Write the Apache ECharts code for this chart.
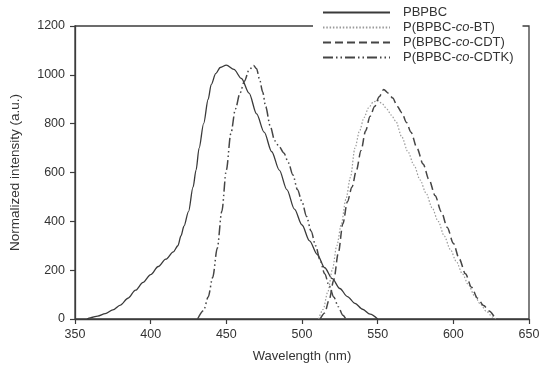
<!DOCTYPE html>
<html>
<head>
<meta charset="utf-8">
<script src="https://cdn.jsdelivr.net/npm/echarts@6/dist/echarts.min.js"></script>
<style>
html,body{margin:0;padding:0;background:#fff;}
#chart{width:550px;height:373px;}
</style>
</head>
<body>
<div id="chart"></div>
<script>
// ---- Data (wavelength nm, normalized intensity) ----
const seriesNames = ["PBPBC", "P(BPBC-co-BT)", "P(BPBC-co-CDT)", "P(BPBC-co-CDTK)"];

const pbpbcX = [358,360,365,370,375,380,385,390,395,400,405,410,415,418,420,422,425,428,430,432,435,438,440,443,446,450,455,460,465,470,475,480,485,490,495,500,505,510,515,520,525,530,535,540,545,550];
const pbpbcY = [0,5,12,22,37,57,85,118,150,182,215,245,275,300,340,380,440,540,610,700,800,900,960,1005,1030,1040,1022,985,925,840,765,685,610,530,450,385,320,265,210,165,125,92,64,40,20,0];

const btX = [511,514,517,520,523,526,529,532,535,538,541,544,547,550,553,556,559,562,566,570,574,578,582,586,590,594,598,602,606,610,614,618,622,626,628];
const btY = [0,40,110,200,300,390,490,580,700,770,825,865,888,895,882,860,835,810,745,685,630,570,515,455,400,340,285,235,185,140,95,60,30,8,0];

const cdtX = [512,515,518,521,524,527,530,533,536,539,542,545,548,551,554,557,560,563,566,569,572,576,580,584,588,592,596,600,604,608,612,616,620,624,628,629];
const cdtY = [0,25,80,160,270,390,480,540,610,690,770,830,870,910,940,925,905,870,845,805,765,700,635,570,505,440,375,310,245,185,130,85,55,32,5,0];

const cdtkX = [431,435,438,441,444,447,450,453,456,459,462,465,468,470,472,474,476,479,482,485,488,491,494,497,500,503,506,509,512,515,518,521,524,527,529];
const cdtkY = [0,35,90,170,290,440,610,760,860,925,975,1020,1038,1025,980,930,870,790,730,705,680,640,590,530,480,420,360,300,240,185,135,90,50,15,0];

const xTicks = {min: 350, max: 650, interval: 50};
const yTicks = {min: 0, max: 1200, interval: 200};

function pairs(xs, ys){ return xs.map((x,i)=>[x, ys[i]]); }

const font = "'Liberation Sans', Arial, sans-serif";
const axisColor = '#3c3c3c';

const chart = echarts.init(document.getElementById('chart'), null, {renderer:'canvas'});
const styles = [
  {color:'#3a3a3a', width:1.3, type:'solid'},
  {color:'#9a9a9a', width:1.2, type:[1.5,1.8]},
  {color:'#454545', width:1.5, type:[8,4]},
  {color:'#454545', width:1.5, type:[10,3,1.5,3,1.5,3]}
];
const dataSets = [pairs(pbpbcX,pbpbcY), pairs(btX,btY), pairs(cdtX,cdtY), pairs(cdtkX,cdtkY)];

function legendFmt(name){
  const m = name.match(/^(.*-)co(-.*)$/);
  if(!m) return '{a|' + name + '}';
  return '{a|' + m[1] + '}{i|co}{a|' + m[2] + '}';
}

chart.setOption({
  animation:false,
  backgroundColor:'#fff',
  grid:{left:74, right:21, top:26, bottom:54, show:true, borderColor:axisColor, borderWidth:1.3, backgroundColor:'transparent'},
  legend:{
    orient:'vertical', left:313, top:1,
    padding:[5,9,4,9],
    backgroundColor:'#fff',
    itemWidth:67, itemHeight:10, itemGap:2,
    itemStyle:{opacity:0},
    formatter:legendFmt,
    textStyle:{fontFamily:font, fontSize:13, color:'#333', padding:[0,0,0,8],
      rich:{a:{fontFamily:font, fontSize:13, color:'#333'}, i:{fontFamily:font, fontSize:13, color:'#333', fontStyle:'italic'}}},
    data:seriesNames
  },
  xAxis:{
    type:'value', min:xTicks.min, max:xTicks.max, interval:xTicks.interval,
    name:'Wavelength (nm)', nameLocation:'middle', nameGap:31,
    nameTextStyle:{fontFamily:font, fontSize:13, color:'#333'},
    axisLine:{show:true, lineStyle:{color:axisColor, width:1.3}},
    axisTick:{show:true, inside:false, length:5, lineStyle:{color:axisColor, width:1.2}},
    axisLabel:{fontFamily:font, fontSize:12.5, color:'#333', margin:9},
    splitLine:{show:false}
  },
  yAxis:{
    type:'value', min:yTicks.min, max:yTicks.max, interval:yTicks.interval,
    name:'Normalized intensity (a.u.)', nameLocation:'middle', nameGap:53,
    nameTextStyle:{fontFamily:font, fontSize:13.5, color:'#333'},
    axisLine:{show:true, lineStyle:{color:axisColor, width:1.3}},
    axisTick:{show:true, inside:false, length:5, lineStyle:{color:axisColor, width:1.2}},
    axisLabel:{fontFamily:font, fontSize:12.5, color:'#333', margin:10, formatter:(v)=>String(v)},
    splitLine:{show:false}
  },
  series: seriesNames.map((n,i)=>({
    name:n, type:'line', data:dataSets[i],
    showSymbol:false, symbol:'none', smooth:0.3, smoothMonotone:'x',
    lineStyle:{color:styles[i].color, width:styles[i].width, type:styles[i].type},
    itemStyle:{color:styles[i].color},
    clip:true
  }))
});
</script>
</body>
</html>
